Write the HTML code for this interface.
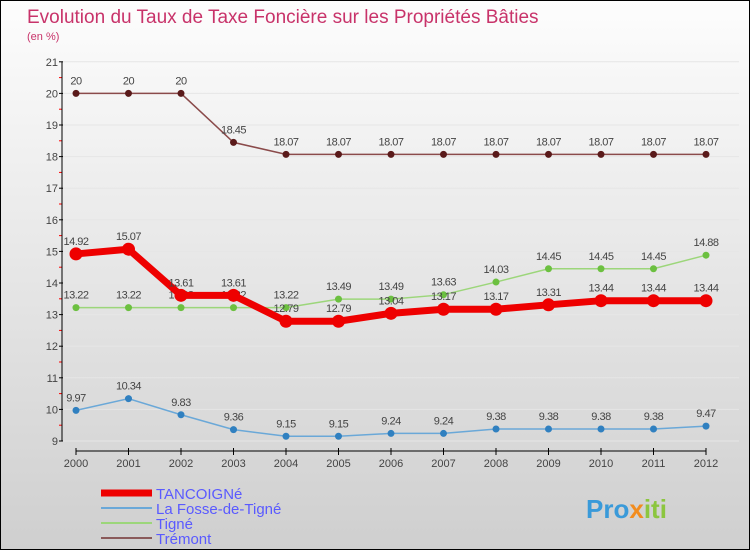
<!DOCTYPE html>
<html><head><meta charset="utf-8"><style>
body{margin:0;}
#c{width:750px;height:550px;position:relative;overflow:hidden;background:linear-gradient(#fdfdfd,#cfcfcf);border:1px solid #000;box-sizing:border-box;font-family:"Liberation Sans",sans-serif;}
text{font-family:"Liberation Sans",sans-serif;}
</style></head><body>
<div id="c">
<svg id="s" width="750" height="550">
<text x="26" y="22" font-size="19" fill="#c8336a">Evolution du Taux de Taxe Foncière sur les Propriétés Bâties</text>
<text x="26" y="39" font-size="11" fill="#c8336a">(en %)</text>
<g id="g"></g>
<text x="585" y="517" font-size="26" font-weight="bold" fill="#3a9ad9">Pro<tspan fill="#f28c1e">x</tspan><tspan fill="#8cc63f">iti</tspan></text>
</svg>
</div>
<script>
const years=[2000,2001,2002,2003,2004,2005,2006,2007,2008,2009,2010,2011,2012];
const tancoigne=[14.92,15.07,13.61,13.61,12.79,12.79,13.04,13.17,13.17,13.31,13.44,13.44,13.44];
const fosse=[9.97,10.34,9.83,9.36,9.15,9.15,9.24,9.24,9.38,9.38,9.38,9.38,9.47];
const tigne=[13.22,13.22,13.22,13.22,13.22,13.49,13.49,13.63,14.03,14.45,14.45,14.45,14.88];
const tremont=[20,20,20,18.45,18.07,18.07,18.07,18.07,18.07,18.07,18.07,18.07,18.07];
const yTicks=[9,10,11,12,13,14,15,16,17,18,19,20,21];
const seriesNames=["TANCOIGNé","La Fosse-de-Tigné","Tigné","Trémont"];
const NS="http://www.w3.org/2000/svg";
const g=document.getElementById('g');
const X=i=>75+i*52.5;
const Y=v=>440-(v-9)*31.6;
function el(t,a,p){const e=document.createElementNS(NS,t);for(const k in a)e.setAttribute(k,a[k]);(p||g).appendChild(e);return e;}
// grid & axes
yTicks.forEach(v=>{
 const l=el('line',{x1:62,x2:738,y1:Y(v),y2:Y(v),stroke:'#e6e6e6'});
 
 
 const t=el('text',{x:57,y:Y(v)+4,'font-size':11,fill:'#444','text-anchor':'end'});t.textContent=v;
 
 
 el('line',{x1:58,x2:62,y1:Y(v),y2:Y(v),stroke:'#000'});
 if(v<21)el('line',{x1:58,x2:61,y1:Y(v+0.5),y2:Y(v+0.5),stroke:'#f00'});
});
const ya=el('line',{x1:61,x2:61,y1:Y(21),y2:Y(9),stroke:'#000'});


const xa=el('line',{x1:75,x2:705,y1:450,y2:450,stroke:'#000'});


years.forEach((yr,i)=>{
 el('line',{x1:X(i),x2:X(i),y1:447,y2:454,stroke:'#000'});
 const t=el('text',{x:X(i),y:466,'font-size':11,fill:'#444','text-anchor':'middle'});t.textContent=yr;
 
 
});
function series(data,col,dot,w,r,name){
 const p=el('polyline',{points:data.map((v,i)=>X(i)+','+Y(v)).join(' '),fill:'none',stroke:col,'stroke-width':w});
 
 
 data.forEach((v,i)=>{
  const c=el('circle',{cx:X(i),cy:Y(v),r:r,fill:dot});
  
  
  const t=el('text',{x:X(i),y:Y(v)-9,'font-size':11,fill:'#444','text-anchor':'middle','letter-spacing':'-0.5'});t.textContent=v;
  
  
 });
}
series(tremont,'#8a4a4a','#5a1a1a',1.5,3.5,'tremont');
series(tigne,'#9cd67a','#6cc040',1.5,3.5,'tigne');
series(fosse,'#6aa8d8','#3080c0',1.5,3.5,'la-fosse-de-tigne');
series(tancoigne,'#ee0000','#ee0000',7,6.5,'tancoigne');
const lc=['#ee0000','#6aa8d8','#9cd67a','#8a5a5a'],lw=[7,2,2,2];
seriesNames.forEach((n,i)=>{
 const y=492+i*15;
 const l=el('line',{x1:100,x2:151,y1:y,y2:y,stroke:lc[i],'stroke-width':lw[i]});
 
 
 const t=el('text',{x:155,y:y+6,'font-size':15,fill:'#5a5aff'});t.textContent=n;
 
 
});
</script>
</body></html>
